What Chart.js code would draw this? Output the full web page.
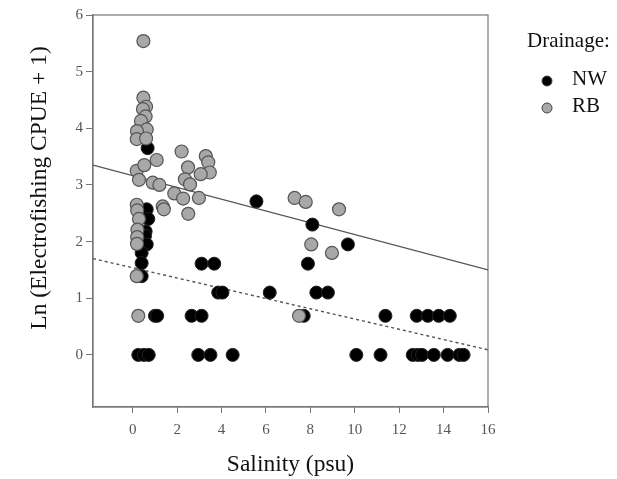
<!DOCTYPE html>
<html>
<head>
<meta charset="utf-8">
<script src="https://cdn.jsdelivr.net/npm/chart.js@4.4.1/dist/chart.umd.min.js"></script>
<style>
  html, body { margin: 0; padding: 0; background: #fff; }
  #wrap { width: 617px; height: 479px; }
</style>
</head>
<body>
<div id="wrap"><canvas id="chart"></canvas></div>
<script>
// Salinity (psu) vs Ln(CPUE + 1)
const nwX = [0.67, 0.63, 0.70, 0.58, 0.55, 0.63, 0.40, 0.40, 0.40, 1.00, 1.10, 0.25, 0.50, 0.72,
             5.57, 3.10, 3.67, 3.85, 4.04, 6.17, 2.65, 3.10, 2.95, 3.50, 4.50,
             8.09, 9.69, 7.89, 8.27, 8.79, 7.70, 11.38, 12.79, 13.29, 13.78, 14.28,
             10.07, 11.16, 12.61, 12.84, 13.03, 13.56, 14.18, 14.71, 14.90];
const nwY = [3.65, 2.57, 2.40, 2.18, 2.10, 1.95, 1.80, 1.62, 1.39, 0.69, 0.69, 0, 0, 0,
             2.71, 1.61, 1.61, 1.10, 1.10, 1.10, 0.69, 0.69, 0, 0, 0,
             2.30, 1.95, 1.61, 1.10, 1.10, 0.69, 0.69, 0.69, 0.69, 0.69, 0.69,
             0, 0, 0, 0, 0, 0, 0, 0, 0];

const rbX = [0.48, 0.48, 0.60, 0.46, 0.58, 0.37, 0.63, 0.19, 0.18, 0.60, 1.08, 2.20, 2.49, 0.18, 0.52,
             0.28, 0.90, 1.20, 1.87, 2.27, 2.98, 2.50, 1.35, 1.40, 3.29, 3.40, 3.47, 3.06, 2.35, 2.58,
             0.18, 0.20, 0.28, 0.21, 0.20, 0.19, 0.18, 0.25,
             7.29, 7.79, 9.29, 8.04, 8.97, 7.49];
const rbY = [5.54, 4.54, 4.38, 4.34, 4.21, 4.13, 3.98, 3.95, 3.81, 3.82, 3.44, 3.59, 3.31, 3.25, 3.35,
             3.09, 3.04, 3.00, 2.85, 2.76, 2.77, 2.49, 2.62, 2.57, 3.51, 3.40, 3.22, 3.19, 3.10, 3.01,
             2.65, 2.55, 2.40, 2.21, 2.08, 1.96, 1.39, 0.69,
             2.77, 2.70, 2.57, 1.95, 1.80, 0.69];

// fitted lines (end points at the frame edges)
const solidX = [-1.79, 16];
const solidY = [3.35, 1.50];
const dottedX = [-1.79, 16];
const dottedY = [1.70, 0.09];

const xTicks = [0, 2, 4, 6, 8, 10, 12, 14, 16];
const yTicks = [0, 1, 2, 3, 4, 5, 6];

const seriesNames = ['NW', 'RB'];
const seriesColors = ['#000000', '#a8a8a8'];
const yTitle = 'Ln (Electrofishing CPUE + 1)';

const FONT = '"Liberation Serif", "Times New Roman", serif';
const toPts = (xs, ys) => xs.map((x, i) => ({ x: x, y: ys[i] }));

// frame on top / right, y title (sits higher than the plot centre) and legend
const framePlugin = {
    id: 'frame',
    beforeDatasetsDraw(chart) {
        const { ctx, chartArea: a } = chart;
        ctx.save();
        ctx.strokeStyle = '#777';
        ctx.lineWidth = 1.2;
        ctx.strokeRect(a.left, a.top, a.right - a.left, a.bottom - a.top);
        ctx.restore();
    },
    afterDraw(chart) {
        const ctx = chart.ctx;
        ctx.save();
        ctx.fillStyle = '#111';
        ctx.textBaseline = 'middle';

        ctx.save();
        ctx.translate(40, 188);
        ctx.rotate(-Math.PI / 2);
        ctx.textAlign = 'center';
        ctx.font = '23.5px ' + FONT;
        ctx.fillText(yTitle, 0, 0);
        ctx.restore();

        ctx.font = '21px ' + FONT;
        ctx.fillText('Drainage:', 527, 41);
        const rows = [79, 106];
        seriesNames.forEach((name, i) => {
            ctx.beginPath();
            ctx.arc(547, rows[i] + 2, 5, 0, Math.PI * 2);
            ctx.fillStyle = seriesColors[i];
            ctx.fill();
            ctx.strokeStyle = '#444';
            ctx.lineWidth = 1;
            ctx.stroke();
            ctx.fillStyle = '#111';
            ctx.fillText(name, 572, rows[i]);
        });
        ctx.restore();
    }
};

new Chart(document.getElementById('chart'), {
    type: 'scatter',
    data: {
        datasets: [
            {
                type: 'line', data: toPts(solidX, solidY),
                borderColor: '#555', borderWidth: 1.2, pointRadius: 0, fill: false, order: 3
            },
            {
                type: 'line', data: toPts(dottedX, dottedY),
                borderColor: '#555', borderWidth: 1.4, borderDash: [3, 3], pointRadius: 0, fill: false, order: 4
            },
            {
                label: seriesNames[0], data: toPts(nwX, nwY),
                backgroundColor: seriesColors[0], borderColor: '#222', borderWidth: 1,
                pointRadius: 6.5, order: 2
            },
            {
                label: seriesNames[1], data: toPts(rbX, rbY),
                backgroundColor: seriesColors[1], borderColor: '#555', borderWidth: 1.2,
                pointRadius: 6.5, order: 1
            }
        ]
    },
    options: {
        responsive: true, maintainAspectRatio: false,
        animation: false,
        layout: { padding: { top: 15, right: 129, left: 0, bottom: 0 } },
        plugins: { legend: { display: false }, tooltip: { enabled: false } },
        scales: {
            x: {
                type: 'linear', min: -1.79, max: 16,
                afterBuildTicks: s => { s.ticks = xTicks.map(v => ({ value: v })); },
                afterFit: s => { s.height = 72; },
                grid: { drawOnChartArea: false, drawTicks: true, tickLength: 6, color: '#777' },
                border: { color: '#777', width: 1.2 },
                ticks: { color: '#555', padding: 8, font: { family: FONT, size: 15 } },
                title: {
                    display: true, text: 'Salinity (psu)', color: '#111',
                    font: { family: FONT, size: 23.5 }, padding: { top: 0, bottom: 0 }
                }
            },
            y: {
                type: 'linear', min: -0.92, max: 6,
                afterBuildTicks: s => { s.ticks = yTicks.map(v => ({ value: v })); },
                afterFit: s => { s.width = 93; },
                grid: { drawOnChartArea: false, drawTicks: true, tickLength: 7, color: '#777' },
                border: { color: '#777', width: 1.2 },
                ticks: { color: '#555', padding: 3, font: { family: FONT, size: 15 } }
            }
        }
    },
    plugins: [framePlugin]
});
</script>
</body>
</html>
